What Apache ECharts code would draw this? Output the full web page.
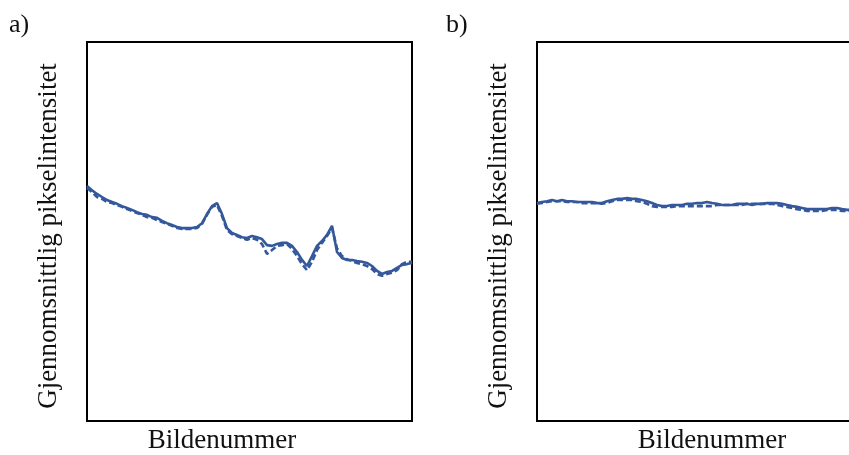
<!DOCTYPE html>
<html>
<head>
<meta charset="utf-8">
<script src="https://cdn.jsdelivr.net/npm/echarts@6/dist/echarts.min.js"></script>
<style>
  html, body { margin: 0; padding: 0; background: #fff; }
  #chart { width: 849px; height: 455px; }
</style>
</head>
<body>
<div id="chart"></div>
<script>
// Frame numbers shared by both panels
const frames = Array.from({ length: 66 }, (_, i) => i);

// Panel a) mean pixel intensity, two runs
const aSolid = [62.0, 60.9, 59.9, 59.1, 58.3, 57.8, 57.3, 56.7, 56.2, 55.7, 55.1, 54.6, 54.4, 53.8, 53.6, 52.8,
  52.2, 51.7, 51.2, 50.9, 50.9, 50.9, 51.2, 52.2, 54.6, 56.7, 57.5, 54.6, 50.9, 49.6, 49.1, 48.5, 48.3, 48.8,
  48.5, 48.0, 46.4, 46.2, 46.7, 47.0, 47.0, 46.2, 44.6, 42.5, 40.9, 43.5, 46.2, 47.5, 49.1, 51.5, 44.6, 43.0,
  42.5, 42.5, 42.2, 42.0, 41.7, 40.9, 39.6, 38.8, 39.3, 39.6, 40.4, 41.2, 41.4, 41.7];
const aDashed = [61.5, 60.4, 59.1, 58.6, 57.8, 57.5, 57.0, 56.5, 55.9, 55.4, 54.9, 54.4, 53.8, 53.6, 53.0, 52.5,
  52.0, 51.5, 50.9, 50.7, 50.7, 50.7, 50.9, 52.0, 54.4, 56.5, 57.0, 54.1, 50.4, 49.3, 48.8, 48.3, 47.8, 48.3,
  47.8, 46.7, 44.1, 45.1, 46.2, 46.4, 46.7, 45.4, 43.5, 41.4, 39.8, 42.0, 45.1, 47.0, 48.8, 50.9, 45.6, 43.5,
  42.7, 42.2, 41.7, 41.4, 40.9, 40.1, 38.8, 38.3, 38.8, 39.1, 39.8, 41.4, 42.0, 42.0];

// Panel b) mean pixel intensity, two runs
const bSolid = [57.5, 57.8, 58.0, 58.3, 58.0, 58.3, 58.0, 58.0, 57.8, 57.8, 57.8, 57.8, 57.5, 57.5, 58.0, 58.3,
  58.6, 58.6, 58.8, 58.6, 58.6, 58.3, 58.0, 57.5, 57.0, 56.7, 56.7, 57.0, 57.0, 57.0, 57.3, 57.3, 57.5, 57.5,
  57.8, 57.5, 57.3, 57.0, 57.0, 57.0, 57.3, 57.3, 57.3, 57.0, 57.3, 57.3, 57.5, 57.5, 57.5, 57.3, 57.0, 56.7,
  56.5, 56.2, 55.9, 55.9, 55.9, 55.9, 55.9, 56.2, 56.2, 55.9, 55.7, 55.7, 55.7, 55.7];
const bDashed = [57.3, 57.5, 57.8, 58.0, 58.0, 58.0, 57.8, 57.8, 57.8, 57.5, 57.5, 57.5, 57.5, 57.3, 57.5, 58.0,
  58.3, 58.3, 58.3, 58.3, 58.0, 57.8, 57.3, 56.7, 56.5, 56.5, 56.5, 56.5, 56.7, 56.7, 56.7, 56.7, 56.7, 56.7,
  56.7, 56.7, 57.0, 57.0, 57.0, 57.0, 57.0, 57.0, 57.3, 57.3, 57.3, 57.3, 57.3, 57.3, 57.0, 56.7, 56.5, 56.2,
  55.9, 55.7, 55.4, 55.4, 55.4, 55.4, 55.7, 55.7, 55.7, 55.4, 55.4, 55.4, 55.7, 55.7];

const panelLabels = ['a)', 'b)'];
const yTitle = 'Gjennomsnittlig pikselintensitet';
const xTitle = 'Bildenummer';

const FONT = "'Liberation Serif', 'Times New Roman', serif";
const LINE = '#34589b';

const chart = echarts.init(document.getElementById('chart'));

// Panel b runs past the right edge of the page
const grids = [
  { left: 87, top: 42, width: 325, height: 379 },
  { left: 537, top: 42, width: 325, height: 379 }
];

function xAxisFor(idx) {
  return {
    type: 'category', gridIndex: idx, data: frames, boundaryGap: false,
    axisLine: { show: false }, axisTick: { show: false }, axisLabel: { show: false }, splitLine: { show: false }
  };
}
function yAxisFor(idx) {
  return {
    type: 'value', gridIndex: idx, min: 0, max: 100,
    axisLine: { show: false }, axisTick: { show: false }, axisLabel: { show: false }, splitLine: { show: false }
  };
}
function lineSeries(idx, data, dashed) {
  return {
    type: 'line', xAxisIndex: idx, yAxisIndex: idx, data: data,
    symbol: 'none', smooth: false, silent: true, clip: true,
    z: dashed ? 3 : 2,
    lineStyle: { color: LINE, width: 2.6, type: dashed ? [6, 3] : 'solid' }
  };
}

function text(x, y, str, rot) {
  return {
    type: 'text', x: x, y: y, rotation: rot || 0, silent: true,
    style: { text: str, font: '27px ' + FONT, fill: '#111', align: 'center', verticalAlign: 'middle' }
  };
}

chart.setOption({
  backgroundColor: '#fff',
  animation: false,
  grid: grids.map(g => Object.assign({
    show: true, borderColor: '#000', borderWidth: 2, backgroundColor: 'transparent',
    outerBoundsMode: 'none', containLabel: false
  }, g)),
  xAxis: [xAxisFor(0), xAxisFor(1)],
  yAxis: [yAxisFor(0), yAxisFor(1)],
  series: [
    lineSeries(0, aSolid, false),
    lineSeries(0, aDashed, true),
    lineSeries(1, bSolid, false),
    lineSeries(1, bDashed, true)
  ],
  graphic: [
    { type: 'text', left: 9, top: 12, silent: true, style: { text: panelLabels[0], font: '26px ' + FONT, fill: '#111' } },
    { type: 'text', left: 446, top: 12, silent: true, style: { text: panelLabels[1], font: '26px ' + FONT, fill: '#111' } },
    text(49, 236, yTitle, Math.PI / 2),
    text(499, 236, yTitle, Math.PI / 2),
    text(222, 441, xTitle),
    text(712, 441, xTitle)
  ]
});
</script>
</body>
</html>
